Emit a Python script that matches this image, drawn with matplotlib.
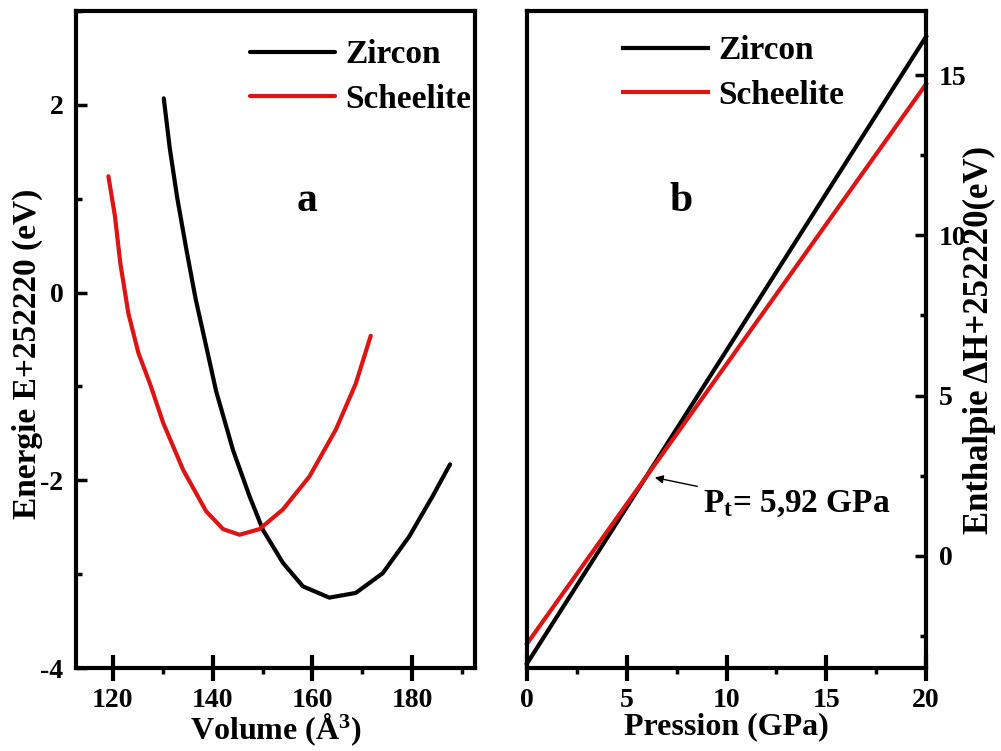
import matplotlib.pyplot as plt
from matplotlib.ticker import MultipleLocator

plt.rcParams['font.family'] = 'Liberation Serif'
plt.rcParams['font.weight'] = 'bold'
plt.rcParams['axes.labelweight'] = 'bold'
plt.rcParams['axes.unicode_minus'] = False
plt.rcParams['mathtext.fontset'] = 'custom'
plt.rcParams['mathtext.rm'] = 'Liberation Serif:bold'
plt.rcParams['mathtext.it'] = 'Liberation Serif:bold'
plt.rcParams['mathtext.bf'] = 'Liberation Serif:bold'

RED = '#dc1414'

# (a) energy vs volume
vol_zircon = [130.2, 131.4, 132.9, 134.7, 136.6, 138.7, 140.7, 144.1, 147.4,
              150.1, 154.1, 158.1, 163.4, 168.7, 174.1, 179.4, 184.1, 187.6]
e_zircon = [2.07, 1.54, 1.01, 0.47, -0.07, -0.57, -1.05, -1.68, -2.17,
            -2.53, -2.88, -3.13, -3.25, -3.20, -2.99, -2.60, -2.17, -1.83]
vol_scheel = [119.1, 120.4, 121.5, 123.1, 125.1, 127.5, 130.1, 134.1, 138.7,
              142.1, 145.4, 149.4, 154.1, 159.4, 164.7, 168.7, 171.7]
e_scheel = [1.24, 0.82, 0.31, -0.22, -0.64, -0.98, -1.39, -1.89, -2.33,
            -2.52, -2.58, -2.52, -2.31, -1.96, -1.46, -0.97, -0.46]

# (b) enthalpy vs pressure
pression = [0, 5, 10, 15, 20]
h_zircon = [-3.36, 1.52, 6.41, 11.31, 16.20]
h_scheel = [-2.74, 1.62, 5.98, 10.35, 14.72]
p_trans = 5.92

fig = plt.figure(figsize=(10.01, 7.51), dpi=100)
ax1 = fig.add_axes([0.0759, 0.1105, 0.3986, 0.8748])
ax2 = fig.add_axes([0.5265, 0.1105, 0.3986, 0.8748])

for ax in (ax1, ax2):
    for s in ax.spines.values():
        s.set_linewidth(3)

# panel a
ax1.plot(vol_zircon, e_zircon, color='black', lw=3, label='Zircon',
         solid_capstyle='round', solid_joinstyle='round')
ax1.plot(vol_scheel, e_scheel, color=RED, lw=3, label='Scheelite',
         solid_capstyle='round', solid_joinstyle='round')
ax1.set_xlim(112.6, 192.6)
ax1.set_ylim(-4, 3)
ax1.xaxis.set_major_locator(MultipleLocator(20))
ax1.xaxis.set_minor_locator(MultipleLocator(10))
ax1.yaxis.set_major_locator(MultipleLocator(2))
ax1.yaxis.set_minor_locator(MultipleLocator(1))
ax1.tick_params(axis='x', which='major', direction='inout', length=19,
                width=3, labelsize=20, pad=5)
ax1.tick_params(axis='x', which='minor', direction='out', length=4, width=2.5)
ax1.tick_params(axis='y', which='major', direction='in', length=8,
                width=2.5, labelsize=20, pad=9)
ax1.tick_params(axis='y', which='minor', direction='in', length=4, width=2.5)
ax1.set_xlabel('Volume (Å$^3$)', fontsize=23, labelpad=-1)
ax1.set_ylabel('Energie E+252220 (eV)', fontsize=24)
ax1.yaxis.set_label_coords(-0.082, 0.479)
ax1.legend(loc='upper left', bbox_to_anchor=(0.436, 0.957), frameon=False,
           fontsize=24, borderpad=0, borderaxespad=0, handlelength=2.55,
           handletextpad=0.3, labelspacing=0.4)
ax1.text(0.579, 0.6956, 'a', transform=ax1.transAxes, fontsize=30,
         ha='center', va='baseline')

# panel b
ax2.plot(pression, h_zircon, color='black', lw=3, label='Zircon', clip_on=False)
ax2.plot(pression, h_scheel, color=RED, lw=3, label='Scheelite', clip_on=False)
ax2.set_xlim(0, 20)
ax2.set_ylim(-3.5, 17)
ax2.xaxis.set_major_locator(MultipleLocator(5))
ax2.xaxis.set_minor_locator(MultipleLocator(2.5))
ax2.yaxis.set_major_locator(MultipleLocator(5))
ax2.yaxis.set_minor_locator(MultipleLocator(2.5))
ax2.yaxis.tick_right()
ax2.yaxis.set_label_position('right')
ax2.tick_params(axis='x', which='major', direction='inout', length=19,
                width=3, labelsize=20, pad=5)
ax2.tick_params(axis='x', which='minor', direction='out', length=4, width=2.5)
ax2.tick_params(axis='y', which='major', direction='in', length=8,
                width=2.5, labelsize=20, pad=9)
ax2.tick_params(axis='y', which='minor', direction='in', length=4, width=2.5)
ax2.set_xlabel('Pression (GPa)', fontsize=23, labelpad=-1)
ax2.set_ylabel('Enthalpie ΔH+252220(eV)', fontsize=25, rotation=90)
ax2.yaxis.set_label_coords(1.092, 0.5)
ax2.legend(loc='upper left', bbox_to_anchor=(0.2406, 0.963), frameon=False,
           fontsize=24, borderpad=0, borderaxespad=0, handlelength=2.55,
           handletextpad=0.3, labelspacing=0.4)
ax2.text(0.387, 0.6956, 'b', transform=ax2.transAxes, fontsize=30,
         ha='center', va='baseline')

# transition pressure marker
ax2.annotate('', xy=(p_trans + 0.35, 2.46), xytext=(8.67, 2.15),
             arrowprops=dict(arrowstyle='-|>', color='black', lw=1,
                             mutation_scale=12))
ax2.text(8.82, 1.37, 'P$_{t}$= 5,92 GPa', fontsize=24, ha='left',
         va='baseline')

fig.savefig('out.png', dpi=100)
